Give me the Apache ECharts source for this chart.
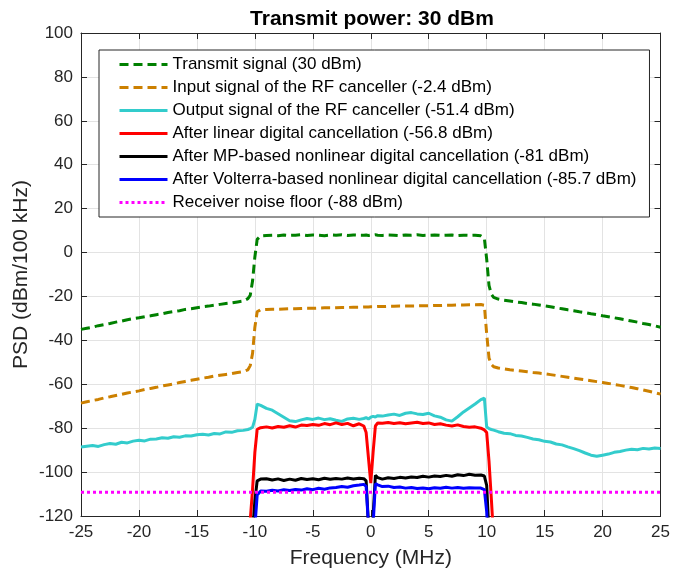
<!DOCTYPE html>
<html>
<head>
<meta charset="utf-8">
<script src="https://cdn.jsdelivr.net/npm/echarts@6/dist/echarts.min.js"></script>
<style>
  html, body { margin: 0; padding: 0; background: #fff; }
  #chart { width: 673px; height: 574px; }
</style>
</head>
<body>
<div id="chart"></div>
<script>
// frequency grid (MHz), denser near the band edges and the DC notch
const freq = [
  -25, -24.5, -24, -23.5, -23, -22.5, -22, -21.5, -21, -20.5, -20, -19.5, -19, -18.5, -18,
  -17.5, -17, -16.5, -16, -15.5, -15, -14.5, -14, -13.5, -13, -12.5, -12, -11.5, -11,
  -10.6, -10.4, -10.2, -10, -9.8, -9.5,
  -9, -8.5, -8, -7.5, -7, -6.5, -6, -5.5, -5, -4.5, -4, -3.5, -3, -2.5, -2, -1.5, -1,
  -0.6, -0.4, -0.2, 0, 0.2, 0.4, 0.6,
  1, 1.5, 2, 2.5, 3, 3.5, 4, 4.5, 5, 5.5, 6, 6.5, 7, 7.5, 8, 8.5, 9,
  9.5, 9.8, 10, 10.2, 10.4, 10.6,
  11, 11.5, 12, 12.5, 13, 13.5, 14, 14.5, 15, 15.5, 16, 16.5, 17, 17.5, 18,
  18.5, 19, 19.5, 20, 20.5, 21, 21.5, 22, 22.5, 23, 23.5, 24, 24.5, 25
];

const transmit = [
  -35.0, -34.5, -34.0, -33.3, -32.8, -32.3, -31.7, -31.2, -30.6, -30.1, -29.7, -29.2, -28.8, -28.3, -27.9,
  -27.3, -26.9, -26.5, -25.9, -25.6, -25.1, -24.7, -24.4, -24.0, -23.6, -23.2, -22.9, -22.5, -22.1,
  -21.0, -19.5, -13.0, -2.0, 6.0, 7.6,
  7.8, 7.9, 7.7, 8.0, 7.8, 7.9, 8.1, 7.8, 8.0, 7.9, 7.7, 8.0, 7.9, 8.1, 7.8, 8.0, 7.9,
  7.9, 8.0, 7.8, 8.0, 7.9, 8.1, 7.9,
  7.8, 8.0, 7.9, 7.7, 8.0, 7.9, 8.1, 7.8, 7.9, 8.0, 7.8, 7.9, 8.0, 7.7, 7.9, 7.8, 7.9,
  7.6, 6.5, -3.0, -15.0, -19.0, -20.4,
  -21.2, -21.7, -22.1, -22.5, -22.8, -23.2, -23.5, -23.9, -24.3, -24.7, -25.2, -25.6, -26.1, -26.5, -27.0,
  -27.4, -27.9, -28.3, -28.8, -29.2, -29.7, -30.2, -30.7, -31.2, -31.7, -32.3, -32.8, -33.4, -34.0
];

const rfInput = [
  -68.6, -68.0, -67.4, -66.9, -66.2, -65.7, -65.1, -64.6, -64.0, -63.5, -63.0, -62.4, -61.9, -61.4, -60.8,
  -60.3, -59.8, -59.2, -58.7, -58.2, -57.7, -57.2, -56.8, -56.3, -55.9, -55.5, -55.1, -54.6, -54.2,
  -53.4, -51.5, -46.0, -34.0, -27.0, -26.0,
  -25.9, -25.8, -25.8, -25.7, -25.6, -25.6, -25.5, -25.4, -25.4, -25.3, -25.2, -25.2, -25.1, -25.0, -25.0, -24.9, -24.9,
  -24.8, -24.8, -24.8, -24.7, -24.7, -24.7, -24.6,
  -24.6, -24.5, -24.5, -24.4, -24.4, -24.3, -24.3, -24.2, -24.2, -24.1, -24.1, -24.0, -24.0, -23.9, -23.9, -23.8, -23.8,
  -23.7, -24.0, -37.0, -48.0, -51.0, -52.0,
  -52.6, -53.0, -53.4, -53.7, -54.0, -54.3, -54.6, -54.9, -55.2, -55.6, -56.0, -56.4, -56.8, -57.2, -57.6,
  -58.0, -58.4, -58.8, -59.2, -59.6, -60.1, -60.5, -61.0, -61.5, -62.0, -62.6, -63.2, -63.8, -64.5
];

const rfOutput = [
  -88.6, -88.2, -87.9, -88.3, -87.5, -87.0, -87.3, -86.4, -86.7, -85.9, -85.5, -85.8, -85.0, -84.9, -84.4,
  -84.6, -83.9, -84.1, -83.5, -83.6, -83.0, -82.8, -83.1, -82.4, -82.6, -81.7, -81.9, -81.2, -81.0,
  -80.6, -80.2, -79.6, -76.0, -69.0, -69.6,
  -71.0, -71.8, -73.4, -75.0, -76.6, -77.0, -76.2, -75.6, -76.0, -75.4, -76.1, -75.7, -76.4, -76.9, -75.8, -75.5, -76.0,
  -75.6, -75.2, -75.8, -75.0, -74.6, -74.9, -74.3,
  -74.5, -74.0, -73.6, -74.2, -73.2, -72.9, -73.5, -73.8, -73.2, -74.4, -75.0, -76.2, -76.8, -74.8, -72.6, -70.8, -69.0,
  -67.0, -66.3, -79.5, -80.2, -80.6, -80.9,
  -81.6, -82.3, -82.5, -83.3, -83.6, -84.2, -84.9, -85.3, -86.0, -86.3, -87.2, -87.6, -88.5, -89.3, -90.2,
  -91.3, -92.3, -92.8, -92.3, -91.8, -91.0, -90.6, -90.0, -89.6, -89.8, -89.2, -89.5, -89.0, -89.3
];

const outerNulls = new Array(29).fill(null);

const linearDig = [
  ...outerNulls,
  -136, -122, -108, -91, -80.5, -79.8,
  -79.4, -79.9, -79.2, -79.6, -78.9, -79.5, -78.6, -78.8, -78.3, -78.7, -77.9, -78.4, -77.6, -78.3, -77.8, -78.9, -78.0,
  -79.0, -82.0, -93.5, -105.0, -91.0, -79.0, -77.6,
  -77.8, -77.4, -77.9, -77.5, -78.0, -77.6, -77.3, -77.9, -77.6, -78.3, -78.0, -78.6, -79.0, -78.5, -79.2, -79.6, -79.4,
  -80.0, -80.8, -82.0, -95.0, -112.0, -130.0,
  ...outerNulls
];

const mpDig = [
  ...outerNulls,
  null, null, -128, -113, -104, -103.2,
  -103.0, -103.6, -103.1, -103.8, -103.2, -103.7, -102.9, -103.4, -103.0, -103.5, -102.8, -103.3, -102.9, -103.2, -102.7, -103.1, -102.8,
  -103.0, -104.0, -124, -150, -120, -101.5, -102.5,
  -103.2, -102.6, -102.9, -102.4, -102.7, -102.2, -102.5, -101.9, -102.3, -101.8, -102.0, -101.5, -101.9, -101.2, -101.6, -101.0, -101.4,
  -101.3, -101.8, -106, -128, null, null,
  ...outerNulls
];

const volterraDig = [
  ...outerNulls,
  null, null, null, -125, -110.5, -108.6,
  -108.7, -108.3, -108.6, -108.0, -108.4, -107.9, -108.2, -107.6, -108.0, -107.4, -107.8, -107.2, -107.0, -106.6, -106.9, -106.2, -105.9,
  -105.6, -106.5, -124, -150, -124, -105.3, -105.8,
  -106.6, -106.4, -107.0, -106.8, -107.3, -107.0, -107.5, -107.2, -107.6, -107.1, -107.4, -106.9, -107.3, -107.0, -107.4, -107.1, -107.3,
  -107.3, -108.0, -118, -140, null, null,
  ...outerNulls
];

const noiseFloorX = [-25, 25];
const noiseFloor = -109.2;

const legendNames = [
  'Transmit signal (30 dBm)',
  'Input signal of the RF canceller (-2.4 dBm)',
  'Output signal of the RF canceller (-51.4 dBm)',
  'After linear digital cancellation (-56.8 dBm)',
  'After MP-based nonlinear digital cancellation (-81 dBm)',
  'After Volterra-based nonlinear digital cancellation (-85.7 dBm)',
  'Receiver noise floor (-88 dBm)'
];

const FONT = '"Liberation Sans", Arial, Helvetica, sans-serif';
const AXIS_COLOR = '#262626';

function pairs(values) {
  const out = [];
  freq.forEach((f, i) => {
    if (values[i] !== null && values[i] !== undefined) out.push([f, values[i]]);
  });
  return out;
}

function lineSeries(name, values, color, type) {
  return {
    name: name,
    type: 'line',
    data: values,
    showSymbol: false,
    symbol: 'none',
    clip: true,
    lineStyle: { color: color, width: 3, type: type || 'solid' },
    itemStyle: { color: color },
    z: 3
  };
}

const chart = echarts.init(document.getElementById('chart'), null, { renderer: 'canvas' });

const baseAxis = {
  axisLine: { show: true, onZero: false, lineStyle: { color: AXIS_COLOR, width: 1 } },
  axisTick: { show: true, inside: true, length: 6, lineStyle: { color: AXIS_COLOR } },
  splitLine: { show: false }
};

const option = {
  animation: false,
  backgroundColor: '#fff',
  textStyle: { fontFamily: FONT },
  title: {
    text: 'Transmit power: 30 dBm',
    left: 367,
    top: 4,
    textAlign: 'center',
    textStyle: { fontFamily: FONT, fontSize: 21, fontWeight: 'bold', color: '#000' }
  },
  grid: { left: 81, right: 10, top: 33, bottom: 57, containLabel: false },
  legend: {
    orient: 'vertical',
    left: 99,
    top: 50,
    padding: [6, 13, 6, 19],
    itemWidth: 48,
    itemHeight: 17,
    itemGap: 6,
    borderColor: '#262626',
    borderWidth: 1,
    backgroundColor: '#fff',
    itemStyle: { opacity: 0 },
    lineStyle: { width: 3 },
    textStyle: { fontFamily: FONT, fontSize: 17, color: '#000' },
    data: legendNames
  },
  xAxis: [
    Object.assign({}, baseAxis, {
      type: 'value',
      min: -25,
      max: 25,
      interval: 5,
      position: 'bottom',
      name: 'Frequency (MHz)',
      nameLocation: 'middle',
      nameGap: 32,
      nameTextStyle: { fontFamily: FONT, fontSize: 21, color: AXIS_COLOR },
      axisLabel: { fontFamily: FONT, fontSize: 17, color: AXIS_COLOR, margin: 8 },
      splitLine: { show: true, lineStyle: { color: '#e3e3e3', width: 1 } }
    }),
    Object.assign({}, baseAxis, {
      type: 'value',
      min: -25,
      max: 25,
      interval: 5,
      position: 'top',
      axisLabel: { show: false }
    })
  ],
  yAxis: [
    Object.assign({}, baseAxis, {
      type: 'value',
      min: -120,
      max: 100,
      interval: 20,
      position: 'left',
      name: 'PSD (dBm/100 kHz)',
      nameLocation: 'middle',
      nameGap: 49,
      nameMoveOverlap: false,
      nameRotate: 90,
      nameTextStyle: { fontFamily: FONT, fontSize: 21, color: AXIS_COLOR },
      axisLabel: { fontFamily: FONT, fontSize: 17, color: AXIS_COLOR, margin: 8 },
      splitLine: { show: true, lineStyle: { color: '#e3e3e3', width: 1 } }
    }),
    Object.assign({}, baseAxis, {
      type: 'value',
      min: -120,
      max: 100,
      interval: 20,
      position: 'right',
      axisLabel: { show: false }
    })
  ],
  series: [
    lineSeries(legendNames[0], pairs(transmit), '#008000', [9, 5]),
    lineSeries(legendNames[1], pairs(rfInput), '#cc8000', [9, 5]),
    lineSeries(legendNames[2], pairs(rfOutput), '#33cccc'),
    lineSeries(legendNames[3], pairs(linearDig), '#ff0000'),
    lineSeries(legendNames[4], pairs(mpDig), '#000000'),
    lineSeries(legendNames[5], pairs(volterraDig), '#0000ff'),
    lineSeries(legendNames[6], noiseFloorX.map(x => [x, noiseFloor]), '#ff00ff', [3, 3])
  ]
};

chart.setOption(option);
</script>
</body>
</html>
